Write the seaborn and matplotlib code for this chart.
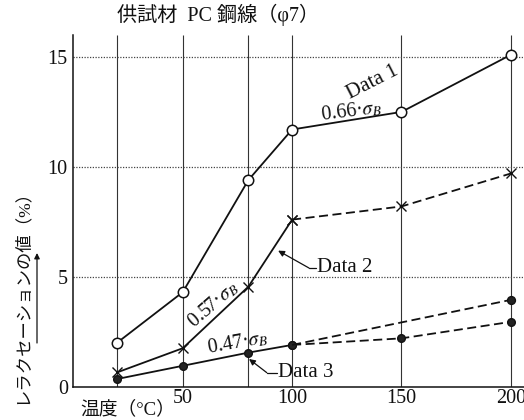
import matplotlib
matplotlib.use("Agg")
import matplotlib.pyplot as plt
import seaborn as sns
import pandas as pd

# Relaxation values (%) of PC steel wire at each test temperature (°C)
temps = [20, 50, 80, 100, 150, 200]
data1 = [2.0, 4.3, 9.4, 11.7, 12.5, 15.1]          # 0.66·σB, open circles
data2 = [0.65, 1.75, 4.55, 7.6, 8.2, 9.7]          # 0.57·σB, crosses
data3_temps = [20, 50, 80, 100]
data3 = [0.35, 0.95, 1.55, 1.9]                    # 0.47·σB, solid dots
data3_low_temps = [100, 150, 200]
data3_low = [1.9, 2.2, 2.95]
data3_high_temps = [100, 200]
data3_high = [1.9, 3.95]

x_ticks = [50, 100, 150, 200]
y_ticks = [0, 5, 10, 15]

title_text = "供試材  PC 鋼線（φ7）"
ylabel_text = "レラクセーションの値（%）"
xlabel_text = "温度（°C）"

sns.set_theme(style="white")
plt.rcParams["font.family"] = ["Liberation Serif", "Noto Sans CJK JP", "DejaVu Sans"]
plt.rcParams["mathtext.fontset"] = "stix"

fig = plt.figure(figsize=(5.24, 4.20), dpi=100)
ax = fig.add_axes([0.14, 0.0793, 0.86, 0.8374])
ax.set_xlim(0, 206)
ax.set_ylim(0, 16)

ink = "#111111"

# reference lines: vertical at each test temperature, dotted horizontals
ax.vlines(temps, 0, 16, colors="#333333", linewidth=0.8, zorder=1)
for yv in y_ticks[1:]:
    ax.axhline(yv, color="#444444", linewidth=0.9, linestyle=(0, (1, 1.2)), zorder=1)

def seg(xs, ys, ls, **kw):
    df = pd.DataFrame({"t": xs, "v": ys})
    sns.lineplot(data=df, x="t", y="v", ax=ax, color=ink, linestyle=ls,
                 linewidth=1.3, zorder=3, **kw)

# Data 1
seg(temps, data1, "-", marker="o", markersize=7.5, markerfacecolor="white",
    markeredgecolor=ink, markeredgewidth=1.1)

# Data 2: solid up to 100 °C, dashed beyond
seg(temps[:4], data2[:4], "-", marker="x", markersize=7, markeredgecolor=ink,
    markeredgewidth=1.0)
seg(temps[3:], data2[3:], (0, (5, 2.5)), marker="x", markersize=7,
    markeredgecolor=ink, markeredgewidth=1.0)

# Data 3: solid up to 100 °C, two dashed branches beyond
dot = dict(marker="o", markersize=5.5, markerfacecolor="#222222",
           markeredgecolor=ink, markeredgewidth=1.0)
seg(data3_temps, data3, "-", **dot)
seg(data3_low_temps, data3_low, (0, (5, 2.5)), **dot)
seg(data3_high_temps, data3_high, (0, (5, 2.5)))
sns.scatterplot(x=data3_high_temps[1:], y=data3_high[1:], ax=ax, s=32,
                color="#222222", edgecolor=ink, linewidth=1.0, zorder=4)

# axes styling
for side in ("top", "right"):
    ax.spines[side].set_visible(False)
for side in ("left", "bottom"):
    ax.spines[side].set_color(ink)
    ax.spines[side].set_linewidth(1.1)
ax.set_xticks(x_ticks)
ax.set_yticks(y_ticks)
ax.set_xticklabels([str(v) for v in x_ticks])
ax.set_yticklabels([str(v) for v in y_ticks])
ax.tick_params(axis="both", length=0, labelsize=14.5, colors=ink)
ax.tick_params(axis="y", pad=4)
ax.tick_params(axis="x", pad=2)
ax.set_xlabel("")
ax.set_ylabel("")
ax.grid(False)

# series labels
ax.text(137, 13.85, "Data 1", fontsize=15, rotation=27, ha="center", va="center", color=ink)
ax.text(127, 12.55, "0.66·$\\sigma_B$", fontsize=14.5, rotation=7, ha="center", va="center", color=ink)
ax.text(64, 3.75, "0.57·$\\sigma_B$", fontsize=14.5, rotation=41, ha="center", va="center", color=ink)
ax.text(75, 1.98, "0.47·$\\sigma_B$", fontsize=14.5, rotation=10, ha="center", va="center", color=ink)

ax.annotate("", xy=(93.6, 6.19), xytext=(107.7, 5.4),
            arrowprops=dict(arrowstyle="-|>", lw=0.9, color=ink, mutation_scale=9,
                            shrinkA=0, shrinkB=0))
ax.plot([107.7, 111.0], [5.4, 5.4], color=ink, lw=0.9)
ax.text(111.4, 5.4, "Data 2", fontsize=15, ha="left", va="center", color=ink)

ax.annotate("", xy=(80.3, 1.26), xytext=(88.4, 0.64),
            arrowprops=dict(arrowstyle="-|>", lw=0.9, color=ink, mutation_scale=9,
                            shrinkA=0, shrinkB=0))
ax.plot([88.4, 93.0], [0.64, 0.64], color=ink, lw=0.9)
ax.text(93.6, 0.64, "Data 3", fontsize=15, ha="left", va="center", color=ink)

# title and axis captions
fig.text(117 / 524, 1 - 15 / 420, title_text, fontsize=14.5, ha="left", va="center", color=ink)
fig.text(22 / 524, 1 - 292 / 420, ylabel_text, fontsize=12.5, rotation=90,
         ha="center", va="center", color=ink)
ax.annotate("", xy=(37, 420 - 253), xytext=(37, 420 - 343),
            xycoords="figure pixels", textcoords="figure pixels",
            arrowprops=dict(arrowstyle="-|>", lw=0.9, color=ink, mutation_scale=8,
                            shrinkA=0, shrinkB=0))
fig.text(80 / 524, 1 - 409 / 420, xlabel_text, fontsize=13.5, ha="left", va="center", color=ink)

fig.savefig("out.png", dpi=100, facecolor="white")
